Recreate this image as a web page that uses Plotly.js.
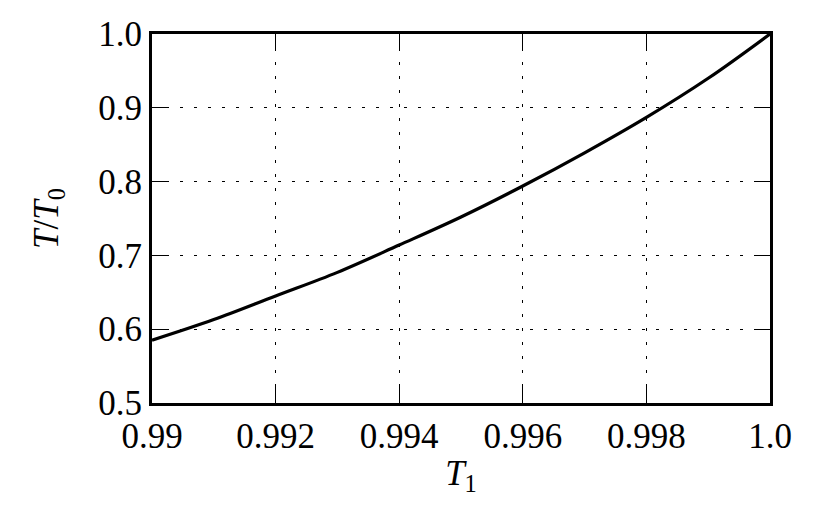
<!DOCTYPE html>
<html>
<head>
<meta charset="utf-8">
<script src="https://cdn.plot.ly/plotly-3.0.1.min.js"></script>
<style>html,body{margin:0;padding:0;background:#fff;}#chart{width:830px;height:519px;}</style>
</head>
<body>
<div id="chart"></div>
<script>
const T1 = [0.990, 0.991, 0.992, 0.993, 0.994, 0.995, 0.996, 0.997, 0.998, 0.999, 1.000];
const ratio = [0.585, 0.613, 0.645, 0.677, 0.714, 0.752, 0.794, 0.839, 0.887, 0.940, 1.000];
const xTickVals = [0.990, 0.992, 0.994, 0.996, 0.998, 1.000];
const xTickText = ["0.99", "0.992", "0.994", "0.996", "0.998", "1.0"];
const yTickVals = [0.5, 0.6, 0.7, 0.8, 0.9, 1.0];
const yTickText = ["0.5", "0.6", "0.7", "0.8", "0.9", "1.0"];

const font = {family: "Liberation Serif", size: 35, color: "#000"};
const axisCommon = {
  showline: true, linecolor: "#000", linewidth: 3, mirror: "ticks",
  ticks: "inside", ticklen: 16, tickwidth: 1.3, tickcolor: "#000",
  showgrid: true, gridcolor: "#000", gridwidth: 1.1, griddash: "3px,11px",
  zeroline: false, tickfont: font, tickmode: "array"
};

Plotly.newPlot("chart", [{
  x: T1, y: ratio, type: "scatter", mode: "lines",
  line: {color: "#000", width: 3.2, shape: "spline"}, hoverinfo: "none"
}], {
  width: 830, height: 519,
  margin: {l: 152, r: 60, t: 34, b: 116},
  paper_bgcolor: "#fff", plot_bgcolor: "#fff",
  showlegend: false,
  font: font,
  xaxis: Object.assign({}, axisCommon, {
    range: [0.99, 1.0], tickvals: xTickVals, ticktext: xTickText,
    title: {text: "<i>T</i><sub>1</sub>", font: font, standoff: 6}
  }),
  yaxis: Object.assign({}, axisCommon, {
    range: [0.5, 1.0], tickvals: yTickVals, ticktext: yTickText,
    title: {text: "<i>T</i>/<i>T</i><sub>0</sub>", font: font, standoff: 30}
  })
}, {staticPlot: true, displayModeBar: false});
</script>
</body>
</html>
